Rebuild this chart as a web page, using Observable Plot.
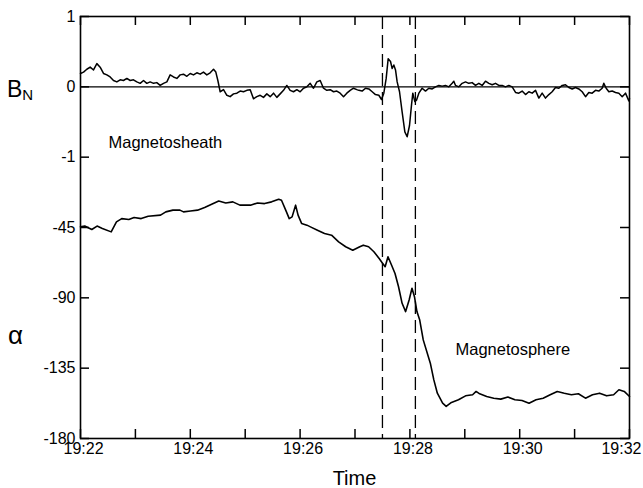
<!DOCTYPE html>
<html><head><meta charset="utf-8">
<script src="https://cdn.jsdelivr.net/npm/d3@7"></script>
<script src="https://cdn.jsdelivr.net/npm/@observablehq/plot@0.6"></script>
<style>html,body{margin:0;padding:0;background:#fff;} #chart{width:643px;height:488px;}</style>
</head><body><div id="chart"></div>
<script>
// Time in minutes after 19:22:00
const bnTime = [0,0.055,0.115,0.176,0.237,0.298,0.358,0.419,0.48,0.54,0.601,0.662,0.723,0.783,0.844,0.905,0.965,1.026,1.087,1.148,1.208,1.269,1.33,1.39,1.451,1.512,1.573,1.633,1.694,1.755,1.815,1.876,1.937,1.998,2.058,2.119,2.18,2.24,2.301,2.362,2.423,2.465,2.502,2.544,2.605,2.666,2.726,2.787,2.848,2.908,2.969,3.03,3.091,3.151,3.212,3.273,3.333,3.394,3.455,3.516,3.576,3.637,3.698,3.758,3.819,3.88,3.941,4.001,4.062,4.123,4.184,4.244,4.305,4.366,4.426,4.487,4.548,4.609,4.669,4.73,4.791,4.851,4.912,4.973,5.033,5.07,5.13,5.191,5.252,5.313,5.373,5.434,5.483,5.525,5.568,5.604,5.647,5.677,5.707,5.738,5.768,5.811,5.859,5.908,5.95,5.993,6.029,6.053,6.09,6.12,6.163,6.223,6.284,6.345,6.406,6.466,6.527,6.588,6.648,6.709,6.77,6.8,6.831,6.891,6.952,7.013,7.073,7.134,7.195,7.256,7.316,7.377,7.438,7.499,7.559,7.62,7.681,7.741,7.802,7.863,7.924,7.984,8.045,8.106,8.166,8.227,8.288,8.349,8.409,8.47,8.531,8.591,8.652,8.713,8.774,8.834,8.895,8.956,9.016,9.077,9.138,9.199,9.259,9.32,9.381,9.441,9.502,9.532,9.575,9.624,9.685,9.745,9.806,9.867,9.927,9.988,10];
const bnValue = [0.19,0.21,0.25,0.28,0.24,0.33,0.28,0.19,0.17,0.14,0.09,0.07,0.1,0.09,0.12,0.09,0.1,0.07,0.05,0.09,0.05,0.07,0.05,0.06,0.02,0.05,0.07,0.17,0.14,0.12,0.17,0.18,0.15,0.19,0.17,0.2,0.18,0.21,0.17,0.2,0.25,0.21,0.09,-0.07,-0.04,-0.12,-0.14,-0.1,-0.09,-0.06,-0.07,-0.05,-0.04,-0.17,-0.14,-0.12,-0.15,-0.1,-0.14,-0.09,-0.15,-0.1,-0.05,0.02,-0.05,-0.07,-0.04,-0.07,-0.02,0,0.05,-0.02,0.07,0.09,-0.02,-0.05,-0.04,-0.07,-0.06,-0.09,-0.14,-0.09,-0.05,-0.02,-0.04,-0.05,-0.06,-0.02,-0.03,-0.07,-0.11,-0.12,-0.18,-0.09,0.12,0.4,0.36,0.26,0.31,0.24,0.07,-0.07,-0.36,-0.64,-0.71,-0.55,-0.26,-0.09,-0.21,-0.19,-0.09,-0.02,-0.06,-0.02,-0.03,0,0.02,0.01,0.02,0,0.05,0.08,0.02,0,0.05,0.07,0.05,0.06,0.02,0.05,0.02,0.08,0.05,0.03,0.05,0.02,0.02,0,0.02,0,-0.08,-0.09,-0.06,-0.11,-0.07,-0.09,-0.05,-0.16,-0.09,-0.16,-0.11,-0.07,-0.01,-0.02,0.02,0.03,-0.01,-0.03,-0.01,-0.03,-0.07,-0.14,-0.08,-0.09,-0.05,-0.06,-0.02,0.05,-0.02,-0.07,-0.06,-0.08,-0.09,-0.14,-0.09,-0.2,-0.17];

const alphaTime = [0,0.077,0.206,0.302,0.398,0.559,0.655,0.751,0.88,0.976,1.105,1.233,1.458,1.554,1.683,1.811,1.876,2.004,2.132,2.261,2.389,2.518,2.646,2.775,2.903,3.096,3.224,3.353,3.481,3.61,3.661,3.738,3.802,3.854,3.918,3.963,4.027,4.124,4.188,4.316,4.445,4.573,4.702,4.83,4.959,5.087,5.151,5.248,5.344,5.44,5.505,5.549,5.601,5.665,5.729,5.793,5.858,5.922,5.986,6.038,6.083,6.128,6.179,6.243,6.372,6.436,6.5,6.596,6.661,6.757,6.885,7.014,7.142,7.206,7.271,7.399,7.528,7.656,7.785,7.913,8.042,8.17,8.298,8.427,8.555,8.684,8.812,8.941,9.069,9.198,9.326,9.455,9.583,9.711,9.807,9.904,10];
const alphaValue = [-44.6,-44.1,-46.3,-44.1,-45.6,-47.8,-41.4,-39.3,-39.9,-38.6,-39.3,-37.8,-37.1,-35,-33.9,-33.9,-35,-34.4,-33.9,-32.2,-30.1,-28,-29.3,-28.6,-30.7,-30.7,-29.3,-29.7,-28.6,-26.9,-27.6,-33.9,-39.3,-38.2,-30.7,-37.1,-42.4,-43.5,-44.6,-46.7,-48.8,-49.9,-54.2,-57.3,-59.5,-57.3,-56.3,-57.3,-60.5,-64.8,-68,-70.1,-63.7,-69,-74.4,-82.9,-93.5,-98.8,-91.4,-83.9,-89.3,-98.8,-104.2,-116.9,-131.8,-142.5,-151,-157.4,-159.5,-156.9,-155.2,-152.7,-152,-149.9,-151.4,-153.1,-154.2,-154.8,-153.5,-155.2,-155.7,-157.4,-155.2,-154.2,-152,-149.9,-151,-152,-151.4,-154.2,-152,-151,-152.7,-152,-148.8,-149.9,-153.1];

const minuteTicks = [0,1,2,3,4,5,6,7,8,9,10];
const labelTicks = [0,2,4,6,8,10];
const labelTickText = ["19:22","19:24","19:26","19:28","19:30","19:32"];
const bnTicks = [1,0,-1];
const alphaTicks = [-45,-90,-135,-180];
const boundaryTimes = [5.5,6.1];
const regionText = ["Magnetosheath","Magnetosphere"];
const regionTime = [0.51,6.83];
const regionBn = [-0.8,null];
const regionAlpha = [null,-123];

// alpha is drawn in the lower part of the shared axis: -45° sits one step below BN = -1
const alphaPos = a => a / 45 - 1;

const bn = bnTime.map((t,i)=>({t, v: bnValue[i]}));
const alpha = alphaTime.map((t,i)=>({t, p: alphaPos(alphaValue[i])}));
const yTicks = [...bnTicks, ...alphaTicks.map(alphaPos)];
const yTickText = [...bnTicks.map(String), ...alphaTicks.map(String)];
const regions = regionText.map((s,i)=>({s, t: regionTime[i], p: regionBn[i] != null ? regionBn[i] : alphaPos(regionAlpha[i])}));
const xLabels = labelTicks.map((t,i)=>({t, s: labelTickText[i]}));

const W = 643, H = 488, mL = 80, mR = 14, mT = 16, mB = 50;
const fw = W - mL - mR, fh = H - mT - mB, tl = 9;
const FONT = "'Liberation Sans', Arial, sans-serif";

const plot = Plot.plot({
  width: W, height: H,
  marginLeft: mL, marginRight: mR, marginTop: mT, marginBottom: mB,
  style: {fontSize: "16px", fontFamily: FONT, background: "#fff", color: "#000"},
  x: {domain: [0,10], axis: null},
  y: {domain: [-5,1]},
  marks: [
    Plot.ruleY([0], {stroke: "#000", strokeWidth: 1.3}),
    Plot.ruleX(boundaryTimes, {stroke: "#000", strokeWidth: 1.3, strokeDasharray: "13,6"}),
    Plot.line(bn, {x: "t", y: "v", stroke: "#000", strokeWidth: 1.5}),
    Plot.line(alpha, {x: "t", y: "p", stroke: "#000", strokeWidth: 1.6}),
    Plot.tickY(yTicks, {y: d=>d, insetRight: fw - tl, stroke: "#000", strokeWidth: 1.5}),
    Plot.tickY(yTicks, {y: d=>d, insetLeft: fw - tl, stroke: "#000", strokeWidth: 1.5}),
    Plot.tickX(minuteTicks, {x: d=>d, insetBottom: fh - tl, stroke: "#000", strokeWidth: 1.5}),
    Plot.tickX(minuteTicks, {x: d=>d, insetTop: fh - tl, stroke: "#000", strokeWidth: 1.5}),
    Plot.frame({stroke: "#000", strokeWidth: 1.6}),
    Plot.axisY({ticks: yTicks, tickSize: 0, tickPadding: 5, fontSize: 16, tickFormat: d => yTickText[yTicks.indexOf(d)], label: null}),
    Plot.text(xLabels.slice(0, -1), {x: "t", text: "s", frameAnchor: "bottom", lineAnchor: "top", dy: 4, dx: 3, fontSize: 16, fill: "#000"}),
    Plot.text(xLabels.slice(-1), {x: "t", text: "s", frameAnchor: "bottom", lineAnchor: "top", textAnchor: "end", dy: 4, dx: 12, fontSize: 16, fill: "#000"}),
    Plot.text(regions, {x: "t", y: "p", text: "s", textAnchor: "start", fontSize: 16.5, fill: "#000"})
  ]
});
document.getElementById("chart").appendChild(plot);

const svg = d3.select(plot);
const xs = plot.scale("x"), ys = plot.scale("y");
const bl = svg.append("text").attr("x", 7).attr("y", ys.apply(0) + 11).attr("text-anchor", "start")
  .attr("font-size", 23).attr("fill", "#000").attr("font-family", FONT);
bl.append("tspan").text("B");
bl.append("tspan").attr("font-size", 15).attr("dy", 3).text("N");
svg.append("text").attr("x", 8).attr("y", ys.apply(alphaPos(-115)) + 8).attr("text-anchor", "start")
  .attr("font-size", 26).attr("fill", "#000").attr("font-family", FONT).text("α");
svg.append("text").attr("x", xs.apply(5)).attr("y", H - 3).attr("text-anchor", "middle")
  .attr("font-size", 20).attr("fill", "#000").attr("font-family", FONT).text("Time");
</script>
</body></html>
